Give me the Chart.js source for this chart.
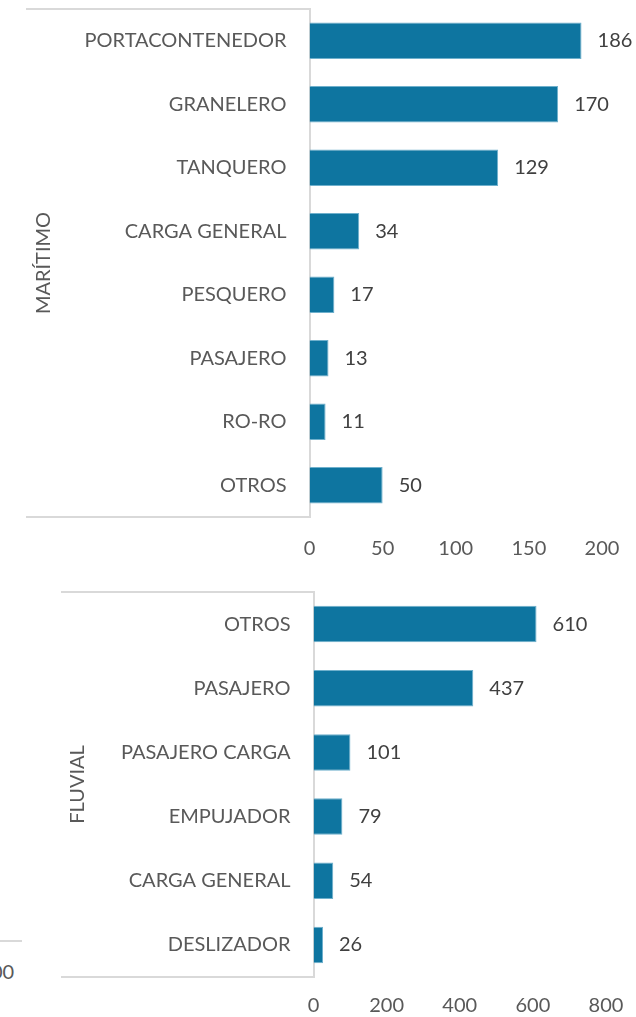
<!DOCTYPE html>
<html>
<head>
<meta charset="utf-8">
<script src="https://cdn.jsdelivr.net/npm/chart.js@4.4.1/dist/chart.umd.min.js"></script>
<style>
  html, body { margin: 0; padding: 0; background: #fff; }
  body { width: 636px; height: 1017px; position: relative; overflow: hidden; font-family: Lato, sans-serif; }
  .wrap { position: absolute; left: 0; width: 636px; }
  #w1 { top: 0; height: 580px; }
  #w2 { top: 580px; height: 437px; }
  .frag-line { position: absolute; left: 0; top: 940px; width: 22px; height: 0; border-top: 2px solid #d9d9d9; }
  .frag-text { position: absolute; left: -9px; top: 959px; font: 20px Lato, sans-serif; color: #595959; }
</style>
</head>
<body>
<div class="frag-line"></div>
<div class="frag-text">00</div>
<div class="wrap" id="w1"><canvas id="c1"></canvas></div>
<div class="wrap" id="w2"><canvas id="c2"></canvas></div>
<script>
const marCats = ["PORTACONTENEDOR", "GRANELERO", "TANQUERO", "CARGA GENERAL", "PESQUERO", "PASAJERO", "RO-RO", "OTROS"];
const marVals = [186, 170, 129, 34, 17, 13, 11, 50];
const marTicks = [0, 50, 100, 150, 200];

const fluCats = ["OTROS", "PASAJERO", "PASAJERO CARGA", "EMPUJADOR", "CARGA GENERAL", "DESLIZADOR"];
const fluVals = [610, 437, 101, 79, 54, 26];
const fluTicks = [0, 200, 400, 600, 800];

const barColor = "#0e75a0";
const textColor = "#595959";
const lineColor = "#d9d9d9";

// group box + rotated group name + value labels
const groupBox = {
  id: "groupBox",
  afterDraw(chart, args, opts) {
    const { ctx, chartArea: a } = chart;
    ctx.save();
    ctx.strokeStyle = lineColor;
    ctx.lineWidth = 2;
    ctx.beginPath();
    ctx.moveTo(opts.left, a.top);
    ctx.lineTo(a.left, a.top);
    ctx.moveTo(opts.left, a.bottom);
    ctx.lineTo(a.left, a.bottom);
    ctx.stroke();

    ctx.fillStyle = textColor;
    ctx.font = "20px Lato";
    ctx.textAlign = "center";
    ctx.textBaseline = "middle";
    ctx.translate(opts.labelX, (a.top + a.bottom) / 2);
    ctx.rotate(-Math.PI / 2);
    ctx.fillText(opts.label, 0, 0);
    ctx.restore();

    ctx.save();
    ctx.fillStyle = "#404040";
    ctx.font = "20px Lato";
    ctx.textAlign = "left";
    ctx.textBaseline = "middle";
    chart.getDatasetMeta(0).data.forEach((bar, i) => {
      ctx.fillText(chart.data.datasets[0].data[i], bar.x + 16, bar.y);
    });
    ctx.restore();
  },
};

function makeConfig(cats, vals, ticks, o) {
  return {
    type: "bar",
    data: {
      labels: cats,
      datasets: [{
        data: vals,
        backgroundColor: barColor,
        borderColor: "#6fb0cc",
        borderWidth: 1,
        borderSkipped: "start",
        barPercentage: o.bar,
        categoryPercentage: 1,
      }],
    },
    options: {
      indexAxis: "y",
      responsive: true,
      maintainAspectRatio: false,
      animation: false,
      layout: { padding: { top: o.top, right: o.right, left: 0, bottom: 0 } },
      scales: {
        x: {
          min: 0,
          max: ticks[ticks.length - 1],
          afterBuildTicks: (s) => { s.ticks = ticks.map((v) => ({ value: v })); },
          afterFit: (s) => {
            s.height = o.xh;
            s.paddingLeft = 0;
            s.paddingRight = 0;
          },
          grid: { display: false, drawTicks: false },
          border: { display: false },
          ticks: { color: textColor, padding: o.tp, font: { family: "Lato", size: 20 } },
        },
        y: {
          afterFit: (s) => {
            s.width = o.yw;
            s.paddingTop = 0;
            s.paddingBottom = 0;
          },
          grid: { display: false, drawTicks: false },
          border: { display: true, color: lineColor, width: 2 },
          ticks: { color: textColor, padding: 23, font: { family: "Lato", size: 20 } },
        },
      },
      plugins: {
        legend: { display: false },
        tooltip: { enabled: false },
        groupBox: { left: o.boxLeft, label: o.label, labelX: o.labelX },
      },
    },
    plugins: [groupBox],
  };
}

new Chart(document.getElementById("c1"), makeConfig(marCats, marVals, marTicks, {
  top: 9, right: 34, xh: 63, yw: 309.5, tp: 20, bar: 0.575,
  boxLeft: 26, label: "MARÍTIMO", labelX: 44,
}));

new Chart(document.getElementById("c2"), makeConfig(fluCats, fluVals, fluTicks, {
  top: 12, right: 30, xh: 40, yw: 313.5, tp: 17, bar: 0.57,
  boxLeft: 61, label: "FLUVIAL", labelX: 78,
}));
</script>
</body>
</html>
